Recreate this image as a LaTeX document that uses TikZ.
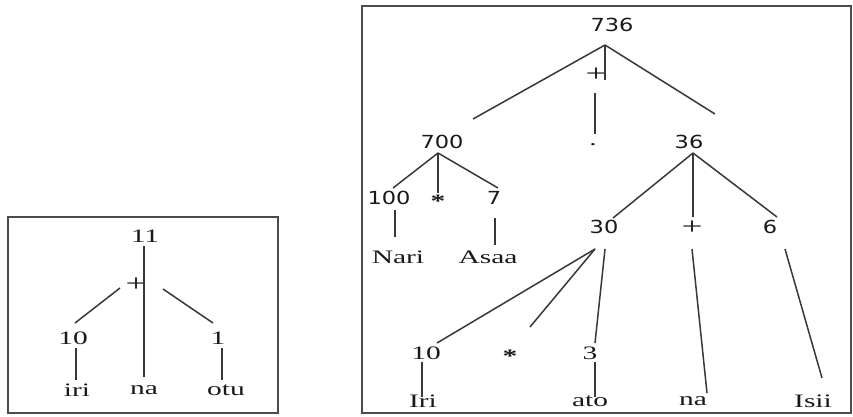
\documentclass[tikz,border=0pt]{standalone}
\usepackage{fontspec}
\newfontfamily\serifwide[FakeStretch=1.55]{Liberation Serif}
\newfontfamily\sanswide[FakeStretch=1.25]{DejaVu Sans}
\newcommand\srf{\serifwide\fontsize{19}{20}\selectfont}
\newcommand\snf{\sanswide\fontsize{18}{20}\selectfont}
\newcommand\plf{\serifwide\fontsize{24}{24}\selectfont}
\newcommand\stf{\serifwide\bfseries\fontsize{19}{20}\selectfont}
\begin{document}
\begin{tikzpicture}[x=1pt,y=-1pt,
  lbl/.style={inner sep=0pt, font=\srf, text=black!90},
  num/.style={inner sep=0pt, font=\snf, text=black!90},
  plus/.style={inner sep=0pt, font=\plf, text=black!90},
  star/.style={inner sep=0pt, font=\stf, text=black!90},
  ln/.style={draw=black!78, line width=1.5pt},
  frame/.style={draw=black!70, line width=1.8pt}]
\useasboundingbox (0,0) rectangle (853,416);
\fill[white] (0,0) rectangle (853,416);
% ---------- left box ----------
\draw[frame] (8,217) rectangle (278,413);
\node[lbl] (l11) at (145,236) {11};
\node[plus] (lplus) at (136,285) {+};
\node[lbl] (l10) at (73,338) {10};
\node[lbl] (l1) at (218,338) {1};
\node[lbl] (liri) at (77,390) {iri};
\node[lbl] (lna) at (144,390) {na};
\node[lbl] (lotu) at (226,390) {otu};
\coordinate (la1) at (144,246); \coordinate (la2) at (144,377);
\coordinate (lb1) at (120,288); \coordinate (lb2) at (75,323);
\coordinate (lc1) at (163,289); \coordinate (lc2) at (213,323);
\coordinate (ld1) at (76,348);  \coordinate (ld2) at (76,380);
\coordinate (le1) at (222,348); \coordinate (le2) at (222,380);
\draw[ln] (la1) -- (la2);
\draw[ln] (lb1) -- (lb2);
\draw[ln] (lc1) -- (lc2);
\draw[ln] (ld1) -- (ld2);
\draw[ln] (le1) -- (le2);
% ---------- right box ----------
\draw[frame] (362,6) rectangle (851,413);
\node[num] (r736) at (612,25) {736};
\node[plus] (rplus) at (596,75) {+};
\node[lbl] (rdot) at (593,145) {.};
\node[num] (r700) at (442,142) {700};
\node[num] (r36) at (689,142) {36};
\node[num] (r100) at (389,198) {100};
\node[star] (rstar) at (438,201) {*};
\node[num] (r7) at (494,198) {7};
\node[lbl] (rnari) at (398,257) {Nari};
\node[lbl] (rasaa) at (488,257) {Asaa};
\node[num] (r30) at (604,227) {30};
\node[plus] (rplusb) at (692,228) {+};
\node[num] (r6) at (770,227) {6};
\node[lbl] (r10) at (426,353) {10};
\node[star] (rstarb) at (510,356) {*};
\node[lbl] (r3) at (590,353) {3};
\node[lbl] (riri) at (423,401) {Iri};
\node[lbl] (rato) at (590,401) {ato};
\node[lbl] (rna) at (693,401) {na};
\node[lbl] (risii) at (813,401) {Isii};
% connectors
\coordinate (a0) at (605,45);
\coordinate (a1) at (473,119);
\coordinate (a2) at (715,114);
\coordinate (a3) at (605,80);
\coordinate (b1) at (595,93); \coordinate (b2) at (595,134);
\coordinate (c0) at (438,153);
\coordinate (c1) at (393,188); \coordinate (c2) at (438,193); \coordinate (c3) at (498,188);
\coordinate (d1) at (395,210); \coordinate (d2) at (395,237);
\coordinate (e1) at (495,218); \coordinate (e2) at (495,245);
\coordinate (f0) at (693,153);
\coordinate (f1) at (613,218); \coordinate (f2) at (693,217); \coordinate (f3) at (777,217);
\coordinate (g0) at (595,249);
\coordinate (g1) at (437,343); \coordinate (g2) at (530,327);
\coordinate (h1) at (605,249); \coordinate (h2) at (595,343);
\coordinate (i1) at (422,362); \coordinate (i2) at (422,397);
\coordinate (j1) at (595,362); \coordinate (j2) at (595,397);
\coordinate (k1) at (692,249); \coordinate (k2) at (707,393);
\coordinate (m1) at (785,249); \coordinate (m2) at (822,378);
\draw[ln] (a0) -- (a1);
\draw[ln] (a0) -- (a2);
\draw[ln] (a0) -- (a3);
\draw[ln] (b1) -- (b2);
\draw[ln] (c0) -- (c1);
\draw[ln] (c0) -- (c2);
\draw[ln] (c0) -- (c3);
\draw[ln] (d1) -- (d2);
\draw[ln] (e1) -- (e2);
\draw[ln] (f0) -- (f1);
\draw[ln] (f0) -- (f2);
\draw[ln] (f0) -- (f3);
\draw[ln] (g0) -- (g1);
\draw[ln] (g0) -- (g2);
\draw[ln] (h1) -- (h2);
\draw[ln] (i1) -- (i2);
\draw[ln] (j1) -- (j2);
\draw[ln] (k1) -- (k2);
\draw[ln] (m1) -- (m2);
\end{tikzpicture}
\end{document}
